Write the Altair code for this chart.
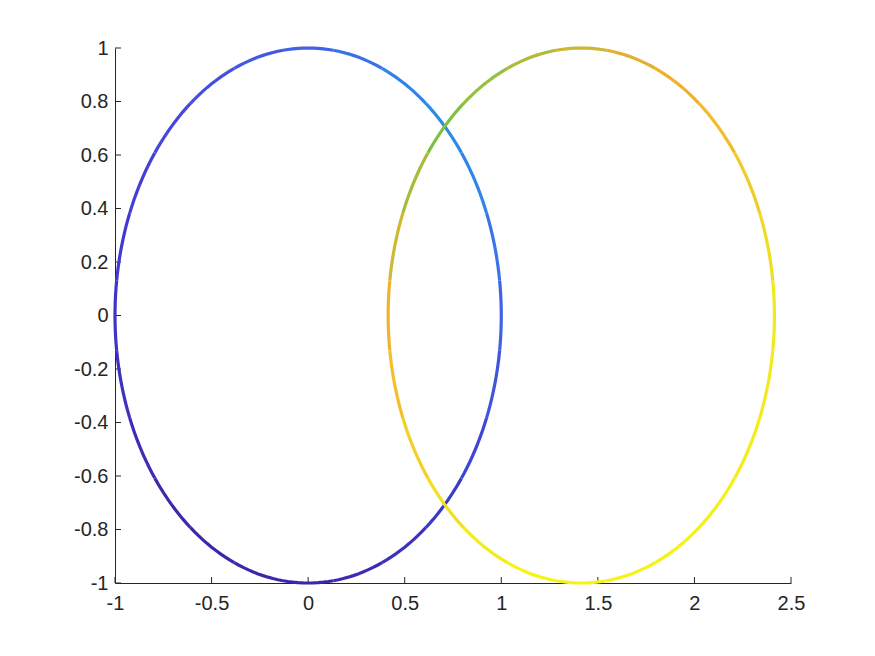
import altair as alt
import numpy as np
import pandas as pd

# ---- data ----
CENTERS_X = [0.0, 1.4142]          # circle centres (y = 0), radius 1
RADIUS = 1.0
ANCHOR_ANGLES = [0, 15, 30, 45, 60, 75, 90, 105, 120, 135, 150, 165,
                 180, 195, 210, 225, 240, 255, 270, 285, 300, 315, 330, 345]
LEFT_COLORS = ["#3f63e6", "#3a74e8", "#2f86e8", "#2a8ce6", "#3183e8", "#3a72e6",
               "#4063e4", "#4458e2", "#4650e0", "#4648dc", "#4440d6", "#423ad0",
               "#4034c8", "#3e30c0", "#3c2cb8", "#3b29b0", "#3a28ac", "#3a28aa",
               "#3a28aa", "#3b2cb0", "#3c32bc", "#3e3ac8", "#4046d4", "#4054de"]
RIGHT_COLORS = ["#f2e820", "#f0dc24", "#f0cc28", "#f2bc2c", "#f0b02e", "#e0b030",
                "#ccb834", "#b0bc38", "#98c040", "#80c044", "#a8bc3a", "#d0b834",
                "#f0b430", "#f2c02c", "#f2d028", "#f2e020", "#f4ec18", "#f6f414",
                "#f8f410", "#f6f414", "#f6f214", "#f4f018", "#f4ec1c", "#f2ea20"]
X_TICKS = [-1, -0.5, 0, 0.5, 1, 1.5, 2, 2.5]
Y_TICKS = [-1, -0.8, -0.6, -0.4, -0.2, 0, 0.2, 0.4, 0.6, 0.8, 1]

# ---- build arc segments (geometry of each circle) ----
rows = []
seg = 0
for cx, colors in zip(CENTERS_X, [LEFT_COLORS, RIGHT_COLORS]):
    for a, col in zip(ANCHOR_ANGLES, colors):
        ts = np.radians(np.linspace(a - 7.5, a + 7.5, 11))
        for i, t in enumerate(ts):
            rows.append({"x": cx + RADIUS * np.cos(t), "y": RADIUS * np.sin(t),
                         "c": col, "seg": seg, "o": i})
        seg += 1
df = pd.DataFrame(rows)

W, H = 676, 535
FONT = "Liberation Sans"
INK = "#262626"

xs = alt.Scale(domain=[-1, 2.5], nice=False, zero=False)
ys = alt.Scale(domain=[-1, 1], nice=False, zero=False)

xaxis = alt.Axis(values=X_TICKS, grid=False, ticks=True, tickSize=0, domainColor=INK,
                 labelColor=INK, labelFont=FONT, labelFontSize=20, labelPadding=10,
                 labelExpr="'' + datum.value", title=None, labelFlush=False,
                 labelOverlap=False)
yaxis = alt.Axis(values=Y_TICKS, grid=False, ticks=True, tickSize=0, domainColor=INK,
                 labelColor=INK, labelFont=FONT, labelFontSize=20, labelPadding=7,
                 labelExpr="'' + datum.value", title=None, labelFlush=False,
                 labelOverlap=False)

lines = alt.Chart(df).mark_line(strokeWidth=3.2, strokeCap="butt").encode(
    x=alt.X("x:Q", scale=xs, axis=xaxis),
    y=alt.Y("y:Q", scale=ys, axis=yaxis),
    color=alt.Color("c:N", scale=None),
    detail="seg:N",
    order="o:Q",
)

xt = alt.Chart(pd.DataFrame({"v": X_TICKS})).mark_rule(color=INK, strokeWidth=1).encode(
    x=alt.X("v:Q", scale=xs), y=alt.value(H), y2=alt.value(H - 6))
yt = alt.Chart(pd.DataFrame({"v": Y_TICKS})).mark_rule(color=INK, strokeWidth=1).encode(
    y=alt.Y("v:Q", scale=ys), x=alt.value(0), x2=alt.value(6))

chart = alt.layer(xt, yt, lines).properties(
    width=W, height=H,
    autosize=alt.AutoSizeParams(type="none"),
    padding={"left": 107, "top": 40, "right": 70, "bottom": 60},
).configure_view(stroke=None).configure_axis(domainWidth=1)

chart.save("out.html", embed_options={"renderer": "svg", "actions": False})
